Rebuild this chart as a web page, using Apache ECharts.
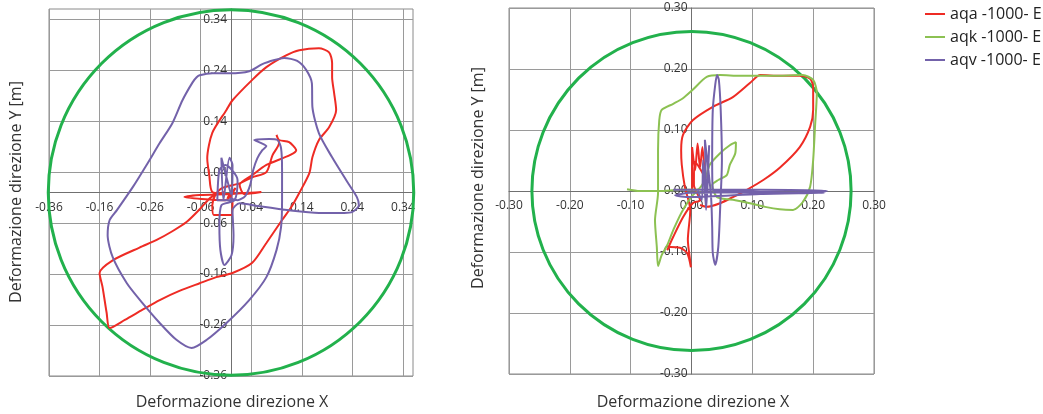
<!DOCTYPE html>
<html>
<head>
<meta charset="utf-8">
<script src="https://cdn.jsdelivr.net/npm/echarts@6/dist/echarts.min.js"></script>
<style>html,body{margin:0;padding:0;background:#fff}#c{width:1043px;height:414px}</style>
</head>
<body>
<div id="c"></div>
<script>
// ---------- data ----------
const seriesNames = ['aqa -1000- E', 'aqk -1000- E', 'aqv -1000- E'];
const seriesColors = ['#EE2B24', '#8CC152', '#7362AA'];
const circleColor = '#22B14C';
const circleRadius = [0.36, 0.262];

// left chart tick values and labels (labels as printed in reference)
const leftTickValues = [-0.36, -0.26, -0.16, -0.06, 0.04, 0.14, 0.24, 0.34];
const leftXTickLabels = ['-0.36', '-0.16', '-0.26', '-0.06', '0.04', '0.14', '0.24', '0.34'];
const leftYTickLabels = ['-0.36', '-0.26', '-0.16', '-0.06', '0.04', '0.14', '0.24', '0.34'];
const rightTickLabels = ['-0.30', '-0.20', '-0.10', '0.00', '0.10', '0.20', '0.30'];
const axisRanges = [[-0.36, 0.36], [-0.3, 0.3]];

const leftRed = [
  [0,0],[-0.007,-0.011],[0.009,0.009],[-0.011,-0.015],
  [-0.092,-0.009],[-0.062,-0.005],[-0.003,-0.003],[0.060,0.001],[0.026,-0.003],
  [0.017,0.015],[0.042,0.034],[0.070,0.054],[0.129,0.083],[0.115,0.099],[0.095,0.103],[0.090,0.113],
  [0.095,0.097],[0.082,0.073],[0.070,0.040],[0.042,0.030],[0.017,0.018],[-0.017,0.009],
  [-0.031,-0.005],[-0.037,-0.025],[-0.034,-0.044],[0.001,-0.044],[0.003,-0.021],[-0.003,-0.004],
  [-0.037,0.001],[-0.043,0.034],[-0.047,0.067],[-0.037,0.117],[-0.009,0.162],[0.003,0.181],
  [0.042,0.221],[0.070,0.246],[0.109,0.269],[0.135,0.279],[0.174,0.283],[0.194,0.275],
  [0.200,0.254],[0.200,0.226],[0.204,0.195],[0.208,0.162],[0.194,0.128],[0.174,0.103],
  [0.161,0.069],[0.155,0.038],[0.135,-0.001],[0.119,-0.029],[0.101,-0.054],[0.070,-0.099],
  [0.042,-0.138],[0.003,-0.158],[-0.029,-0.166],[-0.062,-0.178],[-0.102,-0.193],[-0.141,-0.211],
  [-0.175,-0.230],[-0.210,-0.250],[-0.240,-0.266],[-0.246,-0.236],[-0.254,-0.186],[-0.260,-0.158],
  [-0.234,-0.133],[-0.181,-0.108],[-0.147,-0.093],[-0.116,-0.076],[-0.088,-0.058],[-0.062,-0.033],
  [-0.039,-0.009],[-0.013,0.001]
];
const leftPurple = [
  [0,-0.004],[-0.019,0.068],[-0.015,-0.015],[-0.003,0.068],[0.003,0.054],[0.001,-0.015],
  [-0.027,-0.015],[-0.023,0.044],[-0.011,0.054],[0.013,0.024],[0.007,-0.015],
  [-0.019,-0.025],[-0.023,-0.064],[-0.021,-0.113],[-0.013,-0.142],[0.001,-0.123],[0.005,-0.084],[0.003,-0.035],
  [0.017,-0.021],[0.056,-0.027],[0.115,-0.035],[0.174,-0.040],[0.224,-0.040],[0.240,-0.038],
  [0.253,-0.025],[0.249,-0.009],[0.228,0.024],[0.200,0.069],[0.174,0.116],[0.161,0.168],
  [0.160,0.214],[0.149,0.240],[0.131,0.258],[0.105,0.264],[0.086,0.260],[0.062,0.252],
  [0.036,0.238],[-0.003,0.234],[-0.037,0.234],[-0.062,0.230],[-0.068,0.226],[-0.076,0.216],
  [-0.096,0.181],[-0.116,0.136],[-0.141,0.097],[-0.167,0.054],[-0.194,0.011],[-0.226,-0.035],
  [-0.240,-0.054],[-0.244,-0.084],[-0.234,-0.127],[-0.206,-0.178],[-0.175,-0.217],[-0.141,-0.256],
  [-0.108,-0.289],[-0.078,-0.305],[-0.048,-0.289],[-0.009,-0.256],[0.036,-0.211],[0.070,-0.166],
  [0.090,-0.113],[0.099,-0.068],[0.101,-0.015],[0.101,0.044],[0.099,0.087],[0.092,0.103],
  [0.076,0.105],[0.046,0.103],[0.060,0.097],[0.070,0.091],[0.062,0.083],[0.052,0.067],
  [0.044,0.044],[0.038,0.015],[0.028,-0.007],[0.013,-0.015],[-0.003,-0.011]
];
const rightRed = [
  [0.001,0.000],[0.001,0.072],[0.006,0.034],[0.010,0.078],[0.014,0.038],[0.018,0.072],[0.022,0.023],
  [0.006,0.048],[0.004,0.010],[0.014,-0.015],[0.002,-0.020],[-0.014,-0.043],[-0.030,-0.075],
  [-0.040,-0.097],[-0.035,-0.092],[-0.019,-0.093],[-0.007,-0.102],[-0.001,-0.125],[-0.002,-0.116],
  [-0.006,-0.080],[-0.002,-0.031],[-0.011,0.007],[-0.016,0.043],[-0.017,0.067],[-0.014,0.092],
  [0.002,0.116],[0.035,0.138],[0.068,0.154],[0.096,0.177],[0.113,0.190],[0.146,0.189],
  [0.178,0.189],[0.195,0.184],[0.200,0.170],[0.200,0.133],[0.195,0.105],[0.178,0.072],
  [0.146,0.039],[0.118,0.018],[0.091,0.002],[0.068,-0.010],[0.047,-0.020],[0.025,-0.026],[0.014,-0.023]
];
const rightGreen = [
  [-0.106,0.003],[-0.085,0.000],[-0.052,0.000],[-0.019,0.002],[0.009,0.002],
  [0.022,0.018],[0.030,0.043],[0.047,0.062],[0.063,0.075],[0.073,0.080],[0.072,0.062],
  [0.063,0.043],[0.058,0.026],[0.044,0.018],[0.034,0.010],
  [0.042,-0.010],[0.072,-0.015],[0.096,-0.020],[0.121,-0.026],[0.145,-0.030],[0.167,-0.031],
  [0.183,-0.018],[0.195,0.007],[0.200,0.051],[0.203,0.105],[0.206,0.161],[0.200,0.182],
  [0.183,0.190],[0.134,0.189],[0.080,0.189],[0.047,0.190],[0.025,0.187],[0.002,0.166],
  [-0.014,0.152],[-0.030,0.143],[-0.049,0.133],[-0.053,0.116],[-0.055,0.067],[-0.055,-0.003],
  [-0.060,-0.048],[-0.057,-0.092],[-0.055,-0.123],[-0.049,-0.105],[-0.040,-0.089],[-0.030,-0.064],
  [-0.014,-0.031],[0.009,-0.002],[0.022,-0.003]
];
const rightPurple = [
  [-0.030,0.002],[0.014,0.002],[0.113,0.002],[0.223,0.000],[0.178,-0.003],[0.080,-0.002],
  [-0.002,-0.003],[-0.027,-0.007],[-0.002,-0.010],[0.113,-0.005],[0.219,-0.003],[0.146,-0.002],
  [0.047,0.000],[0.035,0.002],[0.034,0.051],[0.035,0.133],[0.039,0.174],[0.042,0.190],
  [0.045,0.182],[0.048,0.133],[0.050,0.051],[0.047,-0.031],[0.044,-0.092],[0.039,-0.121],
  [0.035,-0.102],[0.034,-0.059],[0.032,-0.007],[0.022,0.084],[0.025,-0.015],[0.029,0.075],
  [0.024,-0.031],[0.019,0.051],[0.017,-0.015],[0.010,0.000]
];

// ---------- chart ----------
const chart = echarts.init(document.getElementById('c'), null, {renderer: 'canvas'});
const FONT = '"Open Sans", "Liberation Sans", sans-serif';
const gridColor = '#9a9a9a';
const axisColor = '#707070';
const grids = [
  {left: 49, top: 9, width: 364, height: 367},
  {left: 509, top: 8, width: 365, height: 366}
];

function labelIndex(v) { return Math.round((v + 0.36) / 0.1); }

function makeAxis(gridIndex, isX) {
  const r = axisRanges[gridIndex];
  const g = grids[gridIndex];
  // move axis line + labels to the value 0 of the other axis
  const frac = (0 - r[0]) / (r[1] - r[0]);
  const base = {
    type: 'value', gridIndex: gridIndex, min: r[0], max: r[1],
    position: isX ? 'bottom' : 'left',
    offset: -(isX ? g.height : g.width) * frac,
    axisLine: {show: true, onZero: false, lineStyle: {color: axisColor, width: 1}},
    axisTick: {show: false},
    splitLine: {show: true, lineStyle: {color: gridColor, width: 1}},
    axisLabel: {color: '#333', fontSize: 12, fontFamily: FONT, margin: isX ? 9 : 4}
  };
  if (gridIndex === 0) {
    base.axisTick.customValues = leftTickValues;
    base.axisLabel.customValues = leftTickValues;
    base.axisLabel.formatter = function (v) {
      const arr = isX ? leftXTickLabels : leftYTickLabels;
      return arr[labelIndex(v)];
    };
  } else {
    base.interval = 0.1;
    base.axisLabel.formatter = function (v) {
      return rightTickLabels[Math.round((v + 0.3) / 0.1)];
    };
  }
  return base;
}

function circleSeries(idx) {
  return {
    type: 'custom', xAxisIndex: idx, yAxisIndex: idx, silent: true, z: 1,
    data: [[0, 0, circleRadius[idx]]],
    encode: {x: 0, y: 1},
    renderItem: function (params, api) {
      const c = api.coord([api.value(0), api.value(1)]);
      const s = api.size([api.value(2), api.value(2)]);
      return {type: 'circle', shape: {cx: c[0], cy: c[1], r: (s[0] + s[1]) / 2},
        style: {fill: 'none', stroke: circleColor, lineWidth: 3}};
    }
  };
}

function lineSeries(name, color, data, idx) {
  return {
    type: 'line', name: name, xAxisIndex: idx, yAxisIndex: idx, data: data,
    showSymbol: false, symbol: 'none', smooth: 0.25, z: 3,
    lineStyle: {color: color, width: 2}, itemStyle: {color: color},
    emphasis: {disabled: true}
  };
}

function titleText(text, x, y, rot) {
  return {type: 'text', x: x, y: y, rotation: rot, silent: true,
    style: {text: text, fill: '#333', fontSize: 16, fontFamily: FONT,
      align: 'center', verticalAlign: 'middle'}};
}

chart.setOption({
  animation: false,
  backgroundColor: '#fff',
  grid: grids.map(g => Object.assign({show: true, borderColor: '#8a8a8a', borderWidth: 1}, g)),
  xAxis: [makeAxis(0, true), makeAxis(1, true)],
  yAxis: [makeAxis(0, false), makeAxis(1, false)],
  legend: {
    data: seriesNames, orient: 'vertical', left: 920, top: 1,
    icon: 'rect', itemWidth: 20, itemHeight: 2, itemGap: 7,
    textStyle: {fontSize: 16, color: '#222', fontFamily: FONT}
  },
  graphic: [
    titleText('Deformazione direzione X', 232, 402, 0),
    titleText('Deformazione direzione X', 693, 402, 0),
    titleText('Deformazione direzione Y [m]', 16, 192, Math.PI / 2),
    titleText('Deformazione direzione Y [m]', 478, 178, Math.PI / 2)
  ],
  series: [
    circleSeries(0), circleSeries(1),
    lineSeries(seriesNames[0], seriesColors[0], leftRed, 0),
    lineSeries(seriesNames[2], seriesColors[2], leftPurple, 0),
    lineSeries(seriesNames[0], seriesColors[0], rightRed, 1),
    lineSeries(seriesNames[1], seriesColors[1], rightGreen, 1),
    lineSeries(seriesNames[2], seriesColors[2], rightPurple, 1)
  ]
});
</script>
</body>
</html>
